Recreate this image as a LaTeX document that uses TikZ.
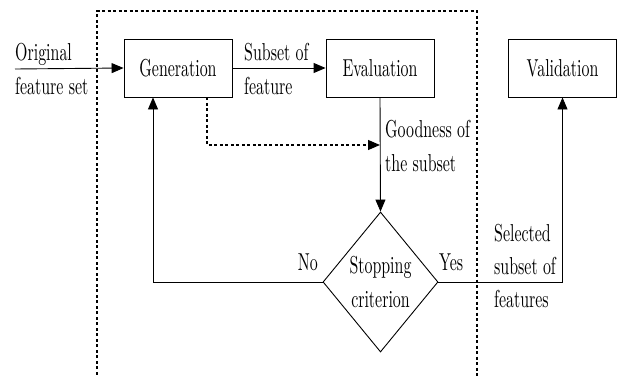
\documentclass[tikz,border=0pt]{standalone}
\usepackage{fontspec}
\setmainfont{lmroman10-regular.otf}[FakeStretch=0.65]
\usetikzlibrary{shapes.geometric,arrows.meta,calc}
\begin{document}
\begin{tikzpicture}[x=1pt,y=-1pt,
  every node/.style={font=\fontsize{24.5}{34}\selectfont},
  blk/.style={draw,line width=0.9pt,minimum width=108pt,minimum height=58pt,inner sep=0pt},
  dia/.style={draw,diamond,line width=0.9pt,minimum width=115pt,minimum height=140pt,inner sep=0pt,align=center},
  lbl/.style={inner sep=0pt,align=left},
  conn/.style={line width=0.9pt,-{Triangle[length=12pt,width=10pt]}},
  dconn/.style={line width=1.2pt,dash pattern=on 3pt off 2.5pt,-{Triangle[length=12pt,width=10pt]}},
  frame/.style={line width=1.3pt,dash pattern=on 3pt off 2.5pt}
]
\useasboundingbox (0,0) rectangle (618,375);
% dashed frame
\draw[frame] (97,380) -- (97,11) -- (477,11) -- (477,380);
% nodes
\node[blk] (gen) at (178,68) {Generation};
\node[blk] (eval) at (380,68) {Evaluation};
\node[blk] (val) at (562.5,68) {Validation};
\node[dia] (stop) at (380.5,282) {Stopping\\criterion};
% labels
\node[lbl,anchor=west] (orig) at (15,69) {Original\\feature set};
\node[lbl,anchor=west] (sub) at (244,69) {Subset of\\feature};
\node[lbl,anchor=west] (good) at (385,146) {Goodness of\\the subset};
\node[lbl,anchor=west,font=\fontsize{24.5}{33}\selectfont] (sel) at (494,266) {Selected\\subset of\\features};
\node[inner sep=0pt,anchor=base east] (no) at (318,270.7) {No};
\node[inner sep=0pt,anchor=base west] (yes) at (439,270.7) {Yes};
% coordinates
\coordinate (start) at (15,69);
\coordinate (ds) at ($(gen.south)+(29,0)$);
\coordinate (dt) at (380,145);
\coordinate (nb) at ($(gen.south)+(-25,0)$);
% connectors
\draw[conn] (start) -- (gen.west);
\draw[conn] (gen.east) -- (eval.west);
\draw[conn] (eval.south) -- (stop.north);
\draw[dconn] (ds) |- (dt);
\draw[conn] (stop.west) -| (nb);
\draw[conn] (stop.east) -| (val.south);
\end{tikzpicture}
\end{document}
